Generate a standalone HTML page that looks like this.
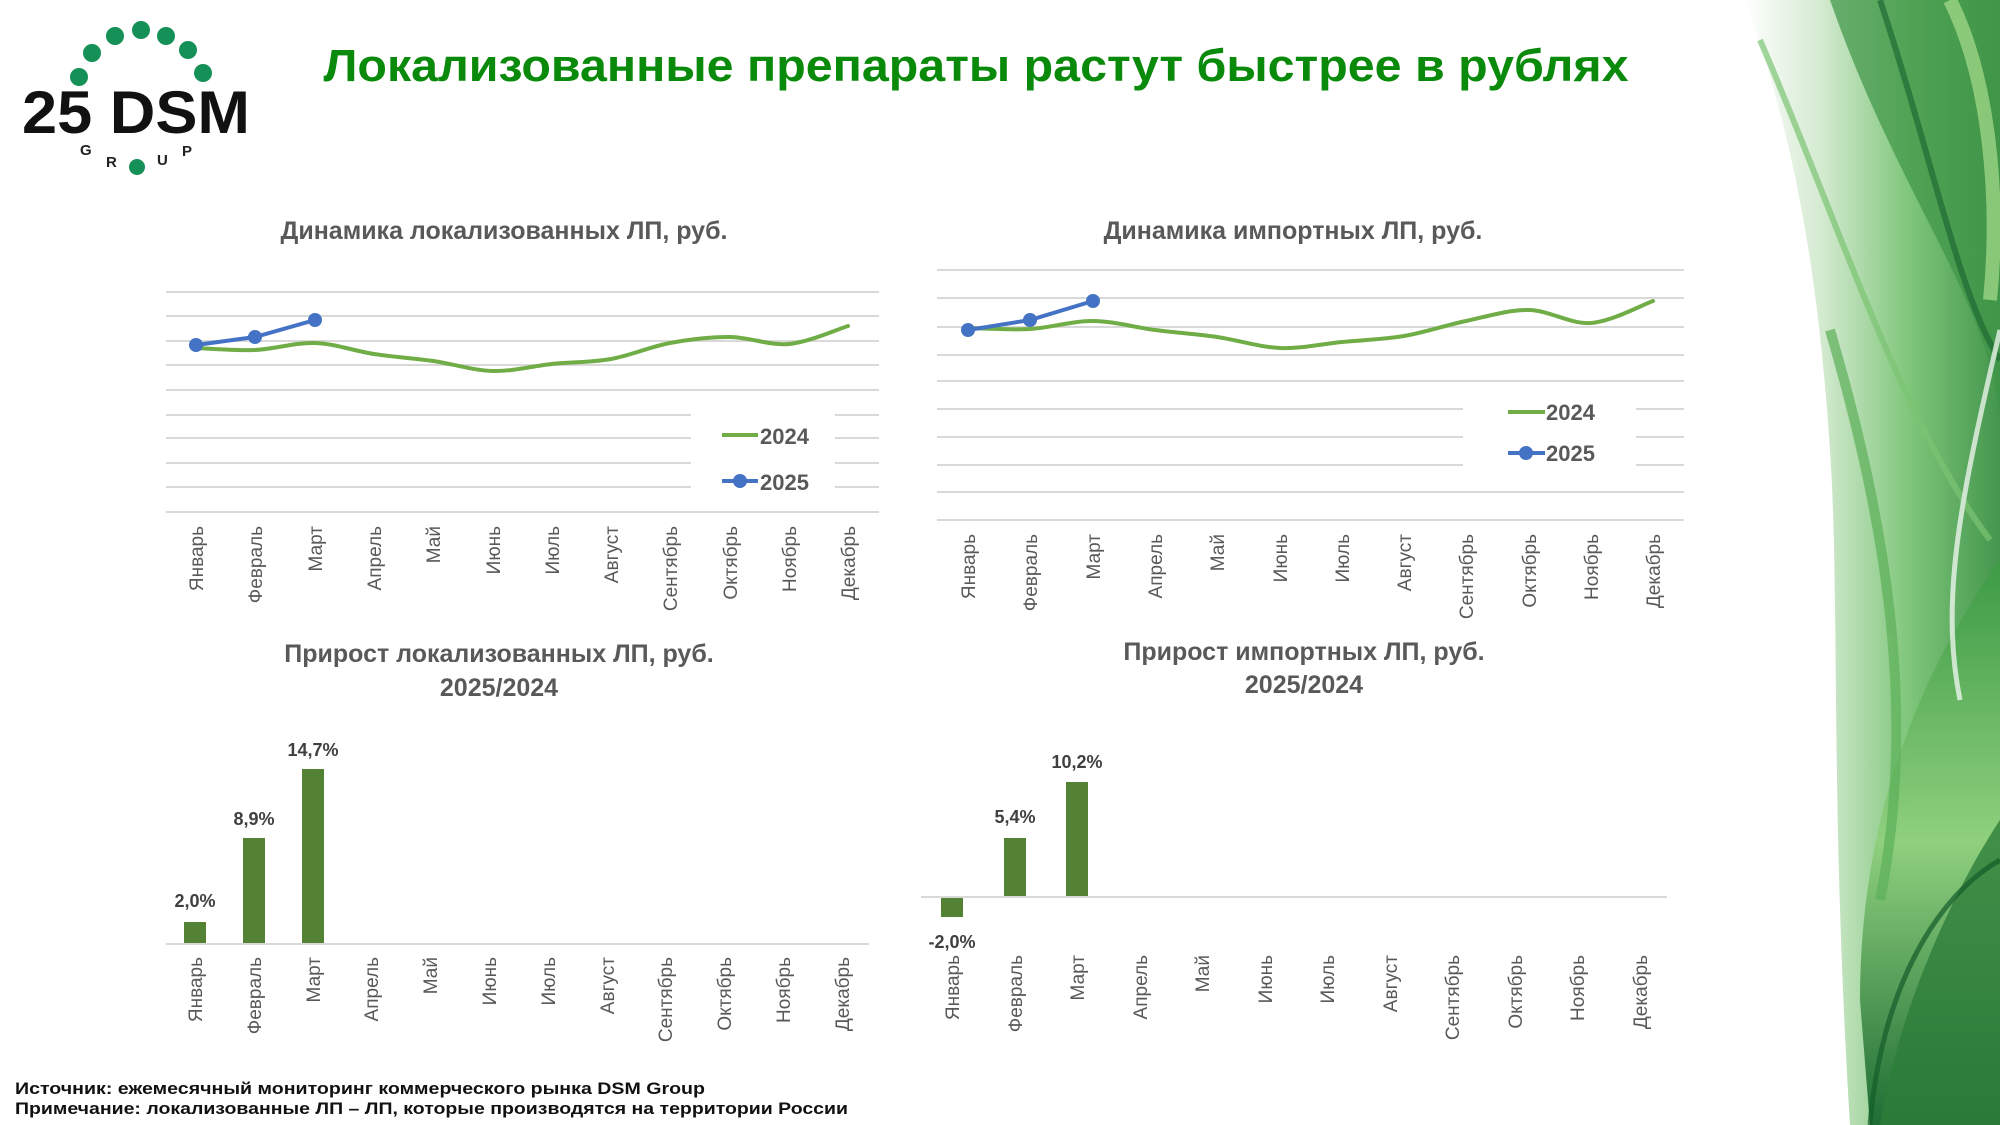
<!DOCTYPE html>
<html><head><meta charset="utf-8"><style>
html,body{margin:0;padding:0;background:#fff;}
svg{display:block;}
text{font-family:"Liberation Sans",sans-serif;}
</style></head><body>
<svg id="s" width="2000" height="1125" viewBox="0 0 2000 1125" xmlns="http://www.w3.org/2000/svg">
<defs>
<linearGradient id="bg" x1="0" y1="0" x2="1" y2="0">
<stop offset="0" stop-color="#fff"/><stop offset="0.3" stop-color="#cfe8cb"/><stop offset="0.65" stop-color="#6fbf6a"/><stop offset="1" stop-color="#2f8a3a"/></linearGradient>
<linearGradient id="g2" x1="0" y1="0" x2="0" y2="1">
<stop offset="0" stop-color="#3c9a45"/><stop offset="0.5" stop-color="#8fd07e"/><stop offset="1" stop-color="#1f6e35"/></linearGradient>
</defs>
<rect width="2000" height="1125" fill="#fff"/>
<!-- right decoration -->
<path d="M1745 0 C1800 150 1820 300 1830 450 C1840 600 1830 800 1850 1125 L2000 1125 L2000 0 Z" fill="url(#bg)" opacity="0.9"/>
<path d="M1830 0 C1900 200 1990 300 2000 420 L2000 0Z" fill="#3d9446" opacity="0.7"/>
<path d="M2000 560 C1900 700 1860 850 1860 1000 L1870 1125 L2000 1125 Z" fill="url(#g2)"/>
<path d="M1880 1125 C1900 1000 1960 880 2000 820 L2000 1125Z" fill="#2d7d3a" opacity="0.8"/>
<g fill="none" stroke-width="6" opacity="0.7">
<path d="M1880 0 C1930 150 1960 300 2000 360" stroke="#1f6b34"/>
<path d="M1760 40 C1830 200 1900 420 1990 540" stroke="#7cc473"/>
<path d="M1830 330 C1880 500 1920 700 1880 900" stroke="#5cb059" stroke-width="10"/>
<path d="M2000 330 C1960 500 1940 600 1960 700" stroke="#ffffff" stroke-width="5"/>
<path d="M1870 1125 C1880 1000 1930 900 2000 860" stroke="#145c2a" stroke-width="5"/>
<path d="M1950 0 C1990 80 2000 200 1990 300" stroke="#a8de8c" stroke-width="14"/>
</g>
<!-- logo -->
<g fill="#159056">
<circle cx="79" cy="77" r="9"/><circle cx="92" cy="53" r="9"/><circle cx="115" cy="36" r="9"/><circle cx="141" cy="30" r="9"/><circle cx="166" cy="36" r="9"/><circle cx="188" cy="50" r="9"/><circle cx="203" cy="73" r="9"/><circle cx="137" cy="167" r="8"/>
</g>
<text x="22" y="133" font-size="60" font-weight="bold" fill="#111" textLength="228" lengthAdjust="spacingAndGlyphs">25 DSM</text>
<text x="80" y="155" font-size="15" font-weight="bold" fill="#222">G</text>
<text x="106" y="167" font-size="15" font-weight="bold" fill="#222">R</text>
<text x="157" y="165" font-size="15" font-weight="bold" fill="#222">U</text>
<text x="182" y="156" font-size="15" font-weight="bold" fill="#222">P</text>
<!-- title -->
<text x="976" y="81" font-size="45" font-weight="bold" fill="#0a8a0a" text-anchor="middle" textLength="1305" lengthAdjust="spacingAndGlyphs">Локализованные препараты растут быстрее в рублях</text>

<!-- chart 1 -->
<text x="504" y="239" font-size="25" font-weight="bold" fill="#595959" text-anchor="middle">Динамика локализованных ЛП, руб.</text>
<g stroke="#d9d9d9" stroke-width="2">
<line x1="166" x2="879" y1="292" y2="292"/><line x1="166" x2="879" y1="316" y2="316"/><line x1="166" x2="879" y1="341" y2="341"/><line x1="166" x2="879" y1="365" y2="365"/><line x1="166" x2="879" y1="390" y2="390"/>
<line x1="166" x2="691" y1="415" y2="415"/><line x1="835" x2="879" y1="415" y2="415"/>
<line x1="166" x2="691" y1="438" y2="438"/><line x1="835" x2="879" y1="438" y2="438"/>
<line x1="166" x2="691" y1="463" y2="463"/><line x1="835" x2="879" y1="463" y2="463"/>
<line x1="166" x2="691" y1="487" y2="487"/><line x1="835" x2="879" y1="487" y2="487"/>
<line x1="166" x2="879" y1="512" y2="512"/>
</g>
<polyline class="sm" fill="none" stroke="#70ad47" stroke-width="4" stroke-linejoin="round" points="196,348 255,350 315,343 374,354 433,361 493,371 552,364 611,359 670,343 730,337 789,344 848,326"/>
<polyline fill="none" stroke="#4472c4" stroke-width="4" points="196,345 255,337 315,320"/>
<g fill="#4472c4"><circle cx="196" cy="345" r="7"/><circle cx="255" cy="337" r="7"/><circle cx="315" cy="320" r="7"/></g>
<line x1="722" x2="758" y1="435" y2="435" stroke="#70ad47" stroke-width="4"/>
<text x="760" y="444" font-size="22" font-weight="bold" fill="#595959">2024</text>
<line x1="722" x2="758" y1="481" y2="481" stroke="#4472c4" stroke-width="4"/><circle cx="740" cy="481" r="7" fill="#4472c4"/>
<text x="760" y="490" font-size="22" font-weight="bold" fill="#595959">2025</text>
<g font-size="19" fill="#595959" text-anchor="end">
<text transform="translate(203,526) rotate(-90)">Январь</text><text transform="translate(262,526) rotate(-90)">Февраль</text><text transform="translate(322,526) rotate(-90)">Март</text><text transform="translate(381,526) rotate(-90)">Апрель</text><text transform="translate(440,526) rotate(-90)">Май</text><text transform="translate(500,526) rotate(-90)">Июнь</text><text transform="translate(559,526) rotate(-90)">Июль</text><text transform="translate(618,526) rotate(-90)">Август</text><text transform="translate(677,526) rotate(-90)">Сентябрь</text><text transform="translate(737,526) rotate(-90)">Октябрь</text><text transform="translate(796,526) rotate(-90)">Ноябрь</text><text transform="translate(855,526) rotate(-90)">Декабрь</text>
</g>

<!-- chart 2 -->
<text x="1293" y="239" font-size="25" font-weight="bold" fill="#595959" text-anchor="middle">Динамика импортных ЛП, руб.</text>
<g stroke="#d9d9d9" stroke-width="2">
<line x1="937" x2="1684" y1="270" y2="270"/><line x1="937" x2="1684" y1="298" y2="298"/><line x1="937" x2="1684" y1="327" y2="327"/><line x1="937" x2="1684" y1="355" y2="355"/><line x1="937" x2="1684" y1="381" y2="381"/>
<line x1="937" x2="1463" y1="409" y2="409"/><line x1="1636" x2="1684" y1="409" y2="409"/>
<line x1="937" x2="1463" y1="437" y2="437"/><line x1="1636" x2="1684" y1="437" y2="437"/>
<line x1="937" x2="1463" y1="465" y2="465"/><line x1="1636" x2="1684" y1="465" y2="465"/>
<line x1="937" x2="1684" y1="492" y2="492"/><line x1="937" x2="1684" y1="520" y2="520"/>
</g>
<polyline class="sm" fill="none" stroke="#70ad47" stroke-width="4" stroke-linejoin="round" points="968,328 1030,329 1093,321 1155,330 1217,337 1280,348 1342,342 1404,336 1466,321 1529,310 1591,323 1653,301"/>
<polyline fill="none" stroke="#4472c4" stroke-width="4" points="968,330 1030,320 1093,301"/>
<g fill="#4472c4"><circle cx="968" cy="330" r="7"/><circle cx="1030" cy="320" r="7"/><circle cx="1093" cy="301" r="7"/></g>
<line x1="1508" x2="1545" y1="412" y2="412" stroke="#70ad47" stroke-width="4"/>
<text x="1546" y="420" font-size="22" font-weight="bold" fill="#595959">2024</text>
<line x1="1508" x2="1545" y1="453" y2="453" stroke="#4472c4" stroke-width="4"/><circle cx="1526" cy="453" r="7" fill="#4472c4"/>
<text x="1546" y="461" font-size="22" font-weight="bold" fill="#595959">2025</text>
<g font-size="19" fill="#595959" text-anchor="end">
<text transform="translate(975,534) rotate(-90)">Январь</text><text transform="translate(1037,534) rotate(-90)">Февраль</text><text transform="translate(1100,534) rotate(-90)">Март</text><text transform="translate(1162,534) rotate(-90)">Апрель</text><text transform="translate(1224,534) rotate(-90)">Май</text><text transform="translate(1287,534) rotate(-90)">Июнь</text><text transform="translate(1349,534) rotate(-90)">Июль</text><text transform="translate(1411,534) rotate(-90)">Август</text><text transform="translate(1473,534) rotate(-90)">Сентябрь</text><text transform="translate(1536,534) rotate(-90)">Октябрь</text><text transform="translate(1598,534) rotate(-90)">Ноябрь</text><text transform="translate(1660,534) rotate(-90)">Декабрь</text>
</g>

<!-- chart 3 -->
<text x="499" y="662" font-size="25" font-weight="bold" fill="#595959" text-anchor="middle">Прирост локализованных ЛП, руб.</text>
<text x="499" y="696" font-size="25" font-weight="bold" fill="#595959" text-anchor="middle">2025/2024</text>
<g fill="#548235"><rect x="184" y="922" width="22" height="22"/><rect x="243" y="838" width="22" height="106"/><rect x="302" y="769" width="22" height="175"/></g>
<line x1="166" x2="869" y1="944" y2="944" stroke="#d9d9d9" stroke-width="2"/>
<g font-size="18" font-weight="bold" fill="#404040" text-anchor="middle"><text x="195" y="907">2,0%</text><text x="254" y="825">8,9%</text><text x="313" y="756">14,7%</text></g>
<g font-size="19" fill="#595959" text-anchor="end">
<text transform="translate(202,957) rotate(-90)">Январь</text><text transform="translate(261,957) rotate(-90)">Февраль</text><text transform="translate(320,957) rotate(-90)">Март</text><text transform="translate(378,957) rotate(-90)">Апрель</text><text transform="translate(437,957) rotate(-90)">Май</text><text transform="translate(496,957) rotate(-90)">Июнь</text><text transform="translate(555,957) rotate(-90)">Июль</text><text transform="translate(614,957) rotate(-90)">Август</text><text transform="translate(672,957) rotate(-90)">Сентябрь</text><text transform="translate(731,957) rotate(-90)">Октябрь</text><text transform="translate(790,957) rotate(-90)">Ноябрь</text><text transform="translate(849,957) rotate(-90)">Декабрь</text>
</g>

<!-- chart 4 -->
<text x="1304" y="660" font-size="25" font-weight="bold" fill="#595959" text-anchor="middle">Прирост импортных ЛП, руб.</text>
<text x="1304" y="693" font-size="25" font-weight="bold" fill="#595959" text-anchor="middle">2025/2024</text>
<g fill="#548235"><rect x="941" y="897" width="22" height="20"/><rect x="1004" y="838" width="22" height="59"/><rect x="1066" y="782" width="22" height="115"/></g>
<line x1="921" x2="1667" y1="897" y2="897" stroke="#d9d9d9" stroke-width="2"/>
<g font-size="18" font-weight="bold" fill="#404040" text-anchor="middle"><text x="952" y="948">-2,0%</text><text x="1015" y="823">5,4%</text><text x="1077" y="768">10,2%</text></g>
<g font-size="19" fill="#595959" text-anchor="end">
<text transform="translate(959,955) rotate(-90)">Январь</text><text transform="translate(1022,955) rotate(-90)">Февраль</text><text transform="translate(1084,955) rotate(-90)">Март</text><text transform="translate(1147,955) rotate(-90)">Апрель</text><text transform="translate(1209,955) rotate(-90)">Май</text><text transform="translate(1272,955) rotate(-90)">Июнь</text><text transform="translate(1334,955) rotate(-90)">Июль</text><text transform="translate(1397,955) rotate(-90)">Август</text><text transform="translate(1459,955) rotate(-90)">Сентябрь</text><text transform="translate(1522,955) rotate(-90)">Октябрь</text><text transform="translate(1584,955) rotate(-90)">Ноябрь</text><text transform="translate(1647,955) rotate(-90)">Декабрь</text>
</g>

<!-- footer -->
<text x="15" y="1094" font-size="17" font-weight="bold" fill="#111" textLength="690" lengthAdjust="spacingAndGlyphs">Источник: ежемесячный мониторинг коммерческого рынка DSM Group</text>
<text x="15" y="1114" font-size="17" font-weight="bold" fill="#111" textLength="833" lengthAdjust="spacingAndGlyphs">Примечание: локализованные ЛП – ЛП, которые производятся на территории России</text>
</svg>
<script>
document.querySelectorAll('polyline.sm').forEach(function(pl){
  var p=pl.getAttribute('points').trim().split(/\s+/).map(function(s){return s.split(',').map(Number);});
  var d='M'+p[0][0]+','+p[0][1];
  for(var i=0;i<p.length-1;i++){
    var p0=p[i-1]||p[i],p1=p[i],p2=p[i+1],p3=p[i+2]||p2;
    var c1x=p1[0]+(p2[0]-p0[0])/6,c1y=p1[1]+(p2[1]-p0[1])/6;
    var c2x=p2[0]-(p3[0]-p1[0])/6,c2y=p2[1]-(p3[1]-p1[1])/6;
    d+=' C'+c1x+','+c1y+' '+c2x+','+c2y+' '+p2[0]+','+p2[1];
  }
  var path=document.createElementNS('http://www.w3.org/2000/svg','path');
  path.setAttribute('d',d);path.setAttribute('fill','none');path.setAttribute('stroke',pl.getAttribute('stroke'));path.setAttribute('stroke-width','4');path.setAttribute('stroke-linecap','round');
  pl.parentNode.replaceChild(path,pl);
});
</script>
</body></html>
